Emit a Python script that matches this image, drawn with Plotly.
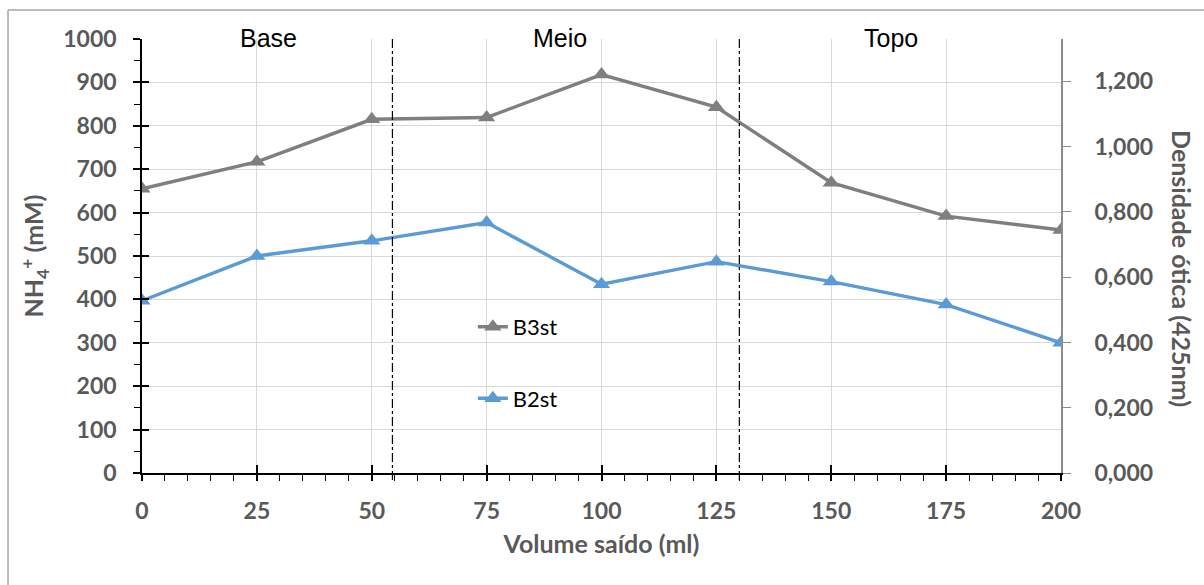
import plotly.graph_objects as go

# Volume collected (ml) and measured series
volume = [0, 25, 50, 75, 100, 125, 150, 175, 200]
b3st = [655, 717, 815, 819, 918, 843, 669, 592, 560]
b2st = [397, 500, 535, 577, 435, 487, 441, 388, 300]

# Column sections and their boundaries along the volume axis
section_names = ["Base", "Meio", "Topo"]
section_label_x = [27.5, 91, 163]
section_bounds = [54.5, 130]

# Right-hand optical density scale
od_ticks = [0.0, 0.2, 0.4, 0.6, 0.8, 1.0, 1.2]
od_max = 1.33

GRAY_TXT = "#595959"
TICK_FONT = dict(family="Lato", size=23, color=GRAY_TXT, weight="bold")
TITLE_FONT = dict(family="Lato", size=25, color=GRAY_TXT, weight="bold")

fig = go.Figure()

fig.add_trace(go.Scatter(
    x=volume, y=b3st, name="B3st", mode="lines+markers",
    line=dict(color="#7f7f7f", width=3.4),
    marker=dict(symbol="triangle-up", size=15, color="#7f7f7f"),
    legendgroup="g1", legendrank=1,
))
fig.add_trace(go.Scatter(
    x=volume, y=b2st, name="B2st", mode="lines+markers",
    line=dict(color="#5b9bd5", width=3.4),
    marker=dict(symbol="triangle-up", size=15, color="#5b9bd5"),
    legendgroup="g2", legendrank=2,
))
# invisible traces to anchor the secondary axes
fig.add_trace(go.Scatter(x=[None], y=[None], yaxis="y2", showlegend=False,
                         hoverinfo="skip"))
fig.add_trace(go.Scatter(x=[None], y=[None], xaxis="x3", yaxis="y3",
                         showlegend=False, hoverinfo="skip"))

# section boundaries
for b in section_bounds:
    fig.add_shape(type="line", xref="x", yref="paper", x0=b, x1=b,
                  y0=-0.016, y1=1, line=dict(color="black", width=1.2,
                                             dash="dashdot"))

# section labels
for name, sx in zip(section_names, section_label_x):
    fig.add_annotation(x=sx, xref="x", y=1.003, yref="paper", text=name,
                       showarrow=False, yanchor="middle",
                       font=dict(family="Liberation Sans", size=25,
                                 color="black"))

# outer frame
fig.add_shape(type="line", xref="paper", yref="paper",
              x0=-0.1458, x1=1.2, y0=1.0668, y1=1.0668,
              line=dict(color="#a6a6a6", width=1.5))
fig.add_shape(type="line", xref="paper", yref="paper",
              x0=-0.1458, x1=-0.1458, y0=-0.3, y1=1.0668,
              line=dict(color="#a6a6a6", width=1.5))

# right axis title (reads top to bottom)
fig.add_annotation(x=1.1318, xref="paper", y=0.472, yref="paper",
                   text="Densidade ótica (425nm)", textangle=90,
                   showarrow=False, xanchor="center", font=TITLE_FONT)

fig.update_layout(
    width=1204, height=585,
    margin=dict(l=142, r=143, t=39, b=112),
    paper_bgcolor="white", plot_bgcolor="white",
    showlegend=True,
    legend=dict(x=0.360, y=0.385, xanchor="left", yanchor="top",
                bgcolor="rgba(0,0,0,0)", tracegroupgap=40,
                font=dict(family="Lato", size=22, color="black")),
    xaxis=dict(
        range=[0, 200], tickmode="linear", tick0=0, dtick=25,
        showgrid=True, gridcolor="#d9d9d9", gridwidth=1.3,
        showline=True, linecolor="black", linewidth=1.6,
        ticks="outside", ticklen=6, tickcolor="black", tickwidth=1.6,
        minor=dict(ticks="outside", ticklen=6, dtick=5, tickcolor="black",
                   tickwidth=1.4, showgrid=False),
        tickfont=TICK_FONT, ticklabelstandoff=11,
        title=dict(text="Volume saído (ml)", standoff=12, font=TITLE_FONT),
        zeroline=False,
    ),
    yaxis=dict(
        range=[0, 1000], tickmode="linear", tick0=0, dtick=100,
        showgrid=True, gridcolor="#d9d9d9", gridwidth=1.3,
        showline=True, linecolor="black", linewidth=1.6,
        ticks="outside", ticklen=7, tickcolor="black", tickwidth=1.6,
        minor=dict(ticks="outside", ticklen=6, dtick=50, tickcolor="black",
                   tickwidth=1.4, showgrid=False),
        tickfont=TICK_FONT, ticklabelstandoff=12,
        title=dict(text="NH<sub>4</sub><sup>+</sup> (mM)", standoff=12,
                   font=TITLE_FONT),
        zeroline=False,
    ),
    yaxis2=dict(
        overlaying="y", side="right", anchor="x", range=[0, od_max],
        tickvals=od_ticks,
        ticktext=[f"{v:.3f}".replace(".", ",") for v in od_ticks],
        showgrid=False, zeroline=False,
        showline=True, linecolor="#8c8c8c", linewidth=1.6,
        ticks="outside", ticklen=8, tickcolor="#8c8c8c", tickwidth=1.4,
        tickfont=TICK_FONT, ticklabelstandoff=19,
    ),
    xaxis3=dict(
        overlaying="x", anchor="y", range=[0, 200], tickmode="linear",
        tick0=0, dtick=25, ticks="inside", ticklen=8, tickcolor="black",
        tickwidth=1.6, showticklabels=False, showgrid=False, zeroline=False,
        showline=False,
    ),
    yaxis3=dict(
        overlaying="y", anchor="x", range=[0, 1000], tickmode="linear",
        tick0=0, dtick=100, ticks="inside", ticklen=7, tickcolor="black",
        tickwidth=1.6, showticklabels=False, showgrid=False, zeroline=False,
        showline=False,
    ),
)

fig.write_html("out.html")
